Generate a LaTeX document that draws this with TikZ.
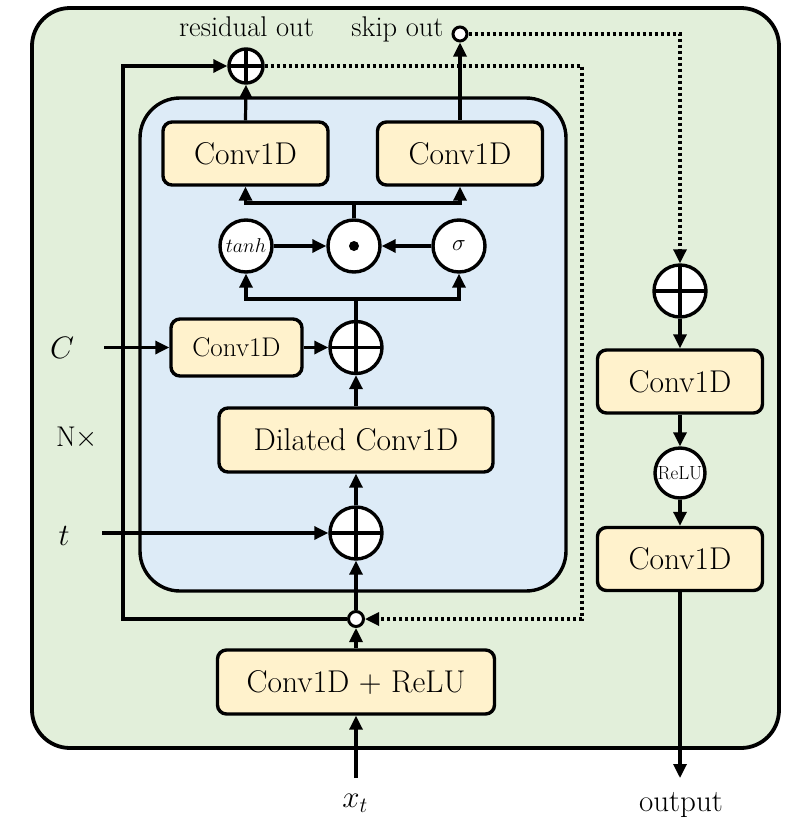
\RequirePackage{fix-cm}
\documentclass[tikz,border=0pt]{standalone}
\usepackage{fontspec}
\usetikzlibrary{arrows.meta}
\definecolor{outerg}{HTML}{E2EFDA}
\definecolor{innerb}{HTML}{DDEBF7}
\definecolor{boxy}{HTML}{FFF2CC}
\begin{document}
\begin{tikzpicture}[x=1pt,y=-1pt,
  tipA/.tip={Triangle[length=14pt,width=13pt]},
  conn/.style={line width=3.2pt,-tipA},
  plain/.style={line width=3.2pt},
  dots/.style={line width=3.2pt,dash pattern=on 3pt off 3pt},
  convbox/.style={draw,line width=3.4pt,fill=boxy,rounded corners=9pt,inner sep=0pt,minimum width=165pt,minimum height=63pt,font=\fontsize{31.5}{36}\selectfont},
  opcirc/.style={draw,circle,line width=3.4pt,fill=white,inner sep=0pt,minimum size=52pt},
  pluscirc/.style={opcirc,path picture={\draw[line width=3.4pt] (path picture bounding box.north) -- (path picture bounding box.south) (path picture bounding box.west) -- (path picture bounding box.east);}},
  smallcirc/.style={draw,circle,line width=3pt,fill=white,inner sep=0pt},
  lbl/.style={inner sep=0pt,font=\fontsize{28.5}{32}\selectfont},
  mlbl/.style={inner sep=0pt,font=\fontsize{31}{36}\selectfont},
]
\useasboundingbox (0,0) rectangle (787,817);
\draw[line width=3.8pt,fill=outerg,rounded corners=38pt] (32,8) rectangle (779,748);
\draw[line width=3.4pt,fill=innerb,rounded corners=40pt] (140,98) rectangle (566,591);

% main column
\node[convbox] (rc) at (245.5,153.5) {Conv1D};
\node[convbox] (sc) at (460,153.5) {Conv1D};
\node[opcirc,font=\fontsize{20}{22}\selectfont] (tanh) at (246,246) {$tanh$};
\node[opcirc] (mul) at (354,246) {};
\fill (mul.center) circle (5pt);
\node[opcirc,font=\fontsize{23}{24}\selectfont] (sig) at (459,246) {$\sigma$};
\node[pluscirc] (p1) at (356,347.5) {};
\node[convbox,minimum width=131pt,minimum height=57pt,font=\fontsize{27}{30}\selectfont] (cc) at (236.5,347.5) {Conv1D};
\node[convbox,minimum width=274pt,minimum height=64pt] (dil) at (356,440) {Dilated Conv1D};
\node[pluscirc] (p2) at (356,533) {};
\node[smallcirc,minimum size=15pt] (j) at (356,619) {};
\node[convbox,minimum width=277pt,minimum height=64pt] (inb) at (356,682) {Conv1D + ReLU};
\node[pluscirc,minimum size=34pt] (rp) at (246,66) {};
\node[smallcirc,minimum size=14pt] (so) at (460,34) {};

% output column
\node[pluscirc] (p3) at (680,291) {};
\node[convbox] (oc1) at (680,381.5) {Conv1D};
\node[opcirc,minimum size=50pt,font=\fontsize{19}{21}\selectfont] (relu) at (680,473) {ReLU};
\node[convbox] (oc2) at (680,559) {Conv1D};

% labels
\node[lbl,anchor=base] (rlab) at (246.5,36) {residual out};
\node[lbl,anchor=base] (slab) at (397.5,36) {skip out};
\node[mlbl] (C) at (62,347.5) {$C$};
\node[mlbl] (t) at (64,536) {$t$};
\node[lbl] (N) at (77,438) {N$\times$};
\node[mlbl] (xt) at (355,803) {$x_t$};
\node[mlbl,anchor=base] (out) at (681,811) {output};

\coordinate (cin) at (104,347.5);
\coordinate (tin) at (102,533);
\coordinate (xin) at (356,778);
\coordinate (oout) at (680,778);
\coordinate (b1) at (356,299);
\coordinate (b2) at (354,203);
\coordinate (lc) at (123,66);
\coordinate (dc) at (582,619);

% connectors
\draw[conn] (xin) -- (inb.south);
\draw[conn] (inb.north) -- (j.south);
\draw[conn] (j.north) -- (p2.south);
\draw[conn] (p2.north) -- (dil.south);
\draw[conn] (dil.north) -- (p1.south);
\draw[conn] (tin) -- (p2.west);
\draw[conn] (cin) -- (cc.west);
\draw[conn] (cc.east) -- (p1.west);
\draw[plain] (p1.north) -- (b1);
\draw[conn] (b1) -| (tanh.south);
\draw[conn] (b1) -| (sig.south);
\draw[conn] (tanh.east) -- (mul.west);
\draw[conn] (sig.west) -- (mul.east);
\draw[plain] (mul.north) -- (b2);
\draw[conn] (b2) -| (rc.south);
\draw[conn] (b2) -| (sc.south);
\draw[conn] (rc.north) -- (rp.south);
\draw[conn] (sc.north) -- (so.south);
\draw[conn] (j.west) -| (lc) -- (rp.west);
\draw[dots,-tipA] (rp.east) -| (dc) -- (j.east);
\draw[dots,-tipA] (so.east) -| (p3.north);
\draw[conn] (p3.south) -- (oc1.north);
\draw[conn] (oc1.south) -- (relu.north);
\draw[conn] (relu.south) -- (oc2.north);
\draw[conn] (oc2.south) -- (oout);
\end{tikzpicture}
\end{document}
